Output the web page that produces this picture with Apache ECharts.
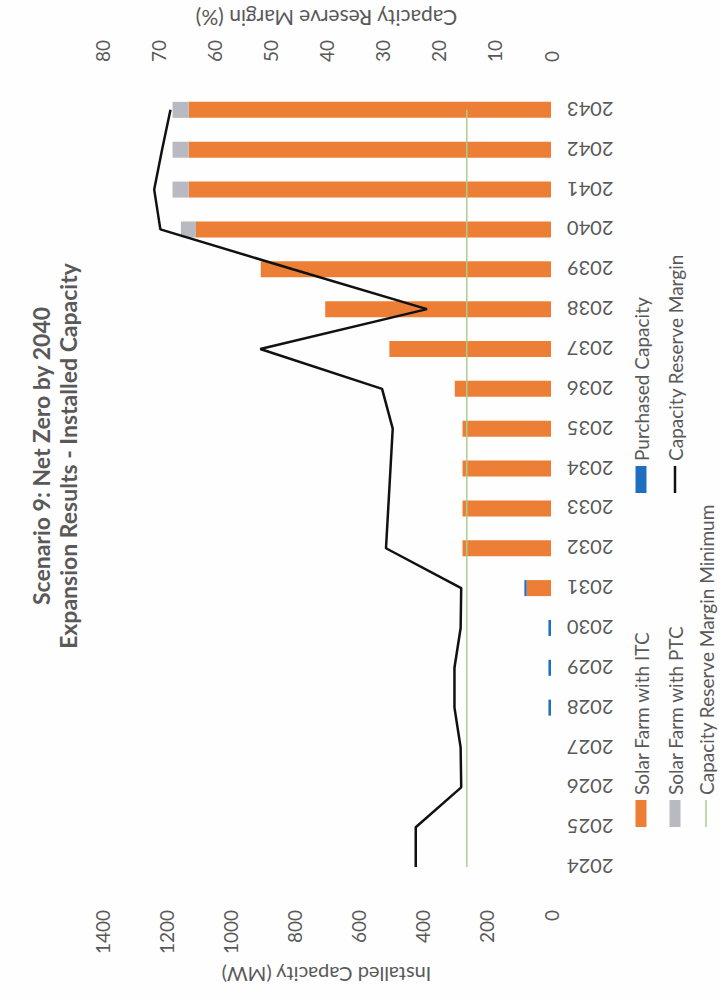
<!DOCTYPE html>
<html>
<head>
<meta charset="utf-8">
<script src="https://cdn.jsdelivr.net/npm/echarts@6/dist/echarts.min.js"></script>
<style>
html,body{margin:0;padding:0;width:720px;height:1000px;overflow:hidden;background:#fefefe;}
#chart{position:absolute;left:0;top:0;width:1000px;height:720px;transform-origin:0 0;transform:translate(0,1000px) rotate(-90deg);}
</style>
</head>
<body>
<div id="chart"></div>
<script>
// ---- data ----
const years = ['2024','2025','2026','2027','2028','2029','2030','2031','2032','2033','2034','2035','2036','2037','2038','2039','2040','2041','2042','2043'];
const solarITC = [0,0,0,0,0,0,0,76,276,276,276,276,300,504,704,905,1107,1130,1130,1130];
const solarPTC = [0,0,0,0,0,0,0,0,0,0,0,0,0,0,0,0,47,50,50,50];
const purchased = [0,0,0,0,8,8,8,7,0,0,0,0,0,0,0,0,0,0,0,0];
const reserveMargin = [24.1,24.1,16.0,16.1,17.2,17.2,16.1,16.0,29.4,29.0,28.6,28.2,30.1,51.8,22.1,46.0,69.6,70.7,69.3,67.8];
const reserveMinimum = [15,15,15,15,15,15,15,15,15,15,15,15,15,15,15,15,15,15,15,15];
const mwTicks = [0,200,400,600,800,1000,1200,1400];
const pctTicks = [0,10,20,30,40,50,60,70,80];

const FONT = 'Lato, "Open Sans", sans-serif';
const TXT = '#595959';

const chart = echarts.init(document.getElementById('chart'), null, {renderer:'svg', width:1000, height:720});

function legendItem(name, left, cy, w, h){
  return {
    data:[{name:name, icon:'rect'}],
    left:left, top:cy-10, padding:0,
    itemWidth:w, itemHeight:h, itemGap:0,
    textStyle:{color:TXT, fontSize:19, fontFamily:FONT, lineHeight:20}
  };
}

chart.setOption({
  backgroundColor:'#fefefe',
  animation:false,
  title:{
    text:'Scenario 9: Net Zero by 2040\nExpansion Results - Installed Capacity',
    left:539, top:22, textAlign:'center',
    textStyle:{color:TXT, fontSize:23, fontWeight:'bold', fontFamily:FONT, lineHeight:27}
  },
  legend:[
    legendItem('Solar Farm with ITC', 173, 641, 27, 11),
    legendItem('Purchased Capacity', 507, 641, 27, 11),
    legendItem('Solar Farm with PTC', 173, 675, 27, 11),
    legendItem('Capacity Reserve Margin', 507, 675, 27, 2.5),
    legendItem('Capacity Reserve Margin Minimum', 173, 706, 27, 1.5)
  ],
  grid:{left:113, right:83, top:102, bottom:169},
  xAxis:{
    type:'category', data:years,
    axisLine:{show:false}, axisTick:{show:false},
    axisLabel:{rotate:90, interval:0, margin:16, color:TXT, fontSize:20, fontFamily:FONT}
  },
  yAxis:[
    {
      type:'value', min:mwTicks[0], max:mwTicks[mwTicks.length-1], interval:mwTicks[1]-mwTicks[0],
      position:'left',
      name:'Installed Capacity (MW)', nameLocation:'middle', nameRotate:90, nameGap:76,
      nameTextStyle:{color:TXT, fontSize:20, fontFamily:FONT},
      axisLine:{show:false}, axisTick:{show:false}, splitLine:{show:false},
      axisLabel:{margin:23, color:TXT, fontSize:19, fontFamily:FONT, formatter:function(v){return String(v);}}
    },
    {
      type:'value', min:pctTicks[0], max:pctTicks[pctTicks.length-1], interval:pctTicks[1]-pctTicks[0],
      position:'right',
      name:'Capacity Reserve Margin (%)', nameLocation:'middle', nameRotate:90, nameGap:52,
      nameTextStyle:{color:TXT, fontSize:21, fontFamily:FONT},
      axisLine:{show:false}, axisTick:{show:false}, splitLine:{show:false},
      axisLabel:{margin:28, color:TXT, fontSize:19, fontFamily:FONT}
    }
  ],
  series:[
    {name:'Solar Farm with ITC', type:'bar', stack:'cap', data:solarITC, barWidth:16, itemStyle:{color:'#EC7E35'}},
    {name:'Solar Farm with PTC', type:'bar', stack:'cap', data:solarPTC, barWidth:16, itemStyle:{color:'#B9B9C2'}},
    {name:'Purchased Capacity', type:'bar', stack:'cap', data:purchased, barWidth:16, itemStyle:{color:'#1F6EC0'}},
    {name:'Capacity Reserve Margin Minimum', type:'line', yAxisIndex:1, data:reserveMinimum, showSymbol:false, symbol:'none', z:4,
      lineStyle:{color:'#A8D08D', width:1.5}, itemStyle:{color:'#A8D08D'}},
    {name:'Capacity Reserve Margin', type:'line', yAxisIndex:1, data:reserveMargin, showSymbol:false, symbol:'none', z:5,
      lineStyle:{color:'#111', width:2.5}, itemStyle:{color:'#111'}}
  ]
});
</script>
</body>
</html>
